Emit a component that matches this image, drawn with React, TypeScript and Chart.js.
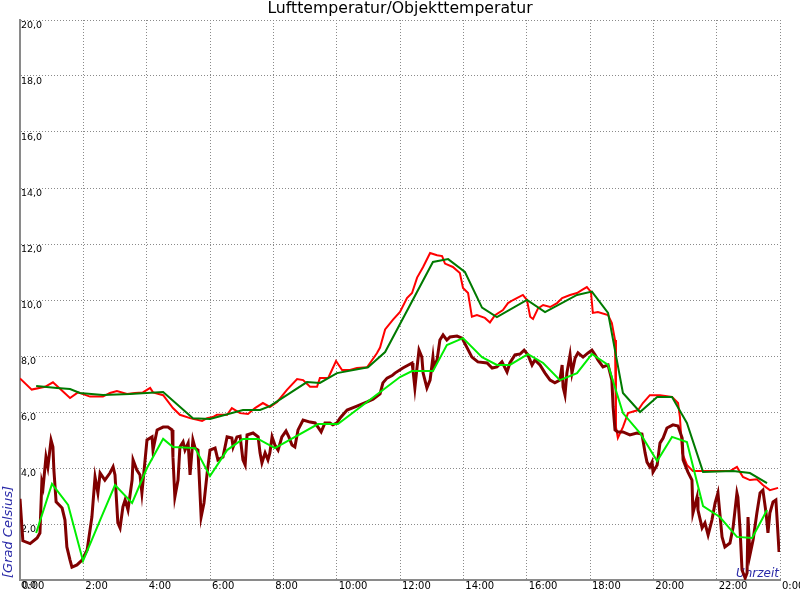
import React, { useEffect, useRef } from 'react';
import { Chart, registerables } from 'chart.js';

Chart.register(...registerables);

const TITLE = 'Lufttemperatur/Objekttemperatur';
const Y_TITLE = '[Grad Celsius]';
const X_TITLE = 'Uhrzeit';

// Lufttemperatur (raw, red)
const airHours = [0, 0.37, 0.79, 1.04, 1.58, 1.83, 2.21, 2.62, 2.84, 3.06, 3.38, 3.63, 3.88, 4.11, 4.2, 4.52, 4.83, 5.05, 5.37, 5.75, 5.91, 6.09, 6.22, 6.54, 6.69, 6.95, 7.2, 7.42, 7.67, 7.89, 8.12, 8.43, 8.75, 8.94, 9.16, 9.38, 9.47, 9.73, 9.85, 9.98, 10.17, 10.42, 10.64, 10.96, 11.27, 11.37, 11.53, 11.78, 12.0, 12.22, 12.38, 12.54, 12.73, 12.95, 13.17, 13.33, 13.42, 13.67, 13.89, 13.99, 14.15, 14.27, 14.43, 14.68, 14.84, 15.0, 15.25, 15.41, 15.57, 15.88, 16.01, 16.11, 16.2, 16.36, 16.52, 16.74, 16.96, 17.12, 17.37, 17.59, 17.75, 17.9, 18.03, 18.09, 18.25, 18.57, 18.69, 18.79, 18.82, 18.88, 19.04, 19.2, 19.52, 19.67, 19.89, 20.21, 20.59, 20.78, 20.84, 20.91, 21.06, 21.25, 21.57, 22.01, 22.42, 22.64, 22.83, 23.05, 23.27, 23.46, 23.68, 23.94];
const airValues = [7.2, 6.8, 6.9, 7.06, 6.5, 6.7, 6.55, 6.55, 6.68, 6.75, 6.64, 6.68, 6.7, 6.86, 6.7, 6.6, 6.14, 5.9, 5.78, 5.68, 5.78, 5.82, 5.9, 5.9, 6.14, 5.96, 5.93, 6.14, 6.32, 6.18, 6.36, 6.79, 7.18, 7.14, 6.9, 6.9, 7.21, 7.21, 7.5, 7.82, 7.5, 7.5, 7.57, 7.6, 8.1, 8.3, 8.95, 9.3, 9.57, 10.07, 10.25, 10.8, 11.18, 11.68, 11.6, 11.57, 11.3, 11.18, 10.96, 10.43, 10.25, 9.4, 9.46, 9.36, 9.2, 9.46, 9.64, 9.89, 10.0, 10.18, 10.0, 9.4, 9.32, 9.7, 9.82, 9.75, 9.89, 10.07, 10.18, 10.25, 10.36, 10.46, 10.29, 9.54, 9.57, 9.46, 9.18, 8.57, 5.46, 5.07, 5.46, 5.96, 6.07, 6.32, 6.6, 6.6, 6.54, 6.32, 5.82, 4.54, 4.11, 3.89, 3.89, 3.89, 3.89, 4.04, 3.68, 3.57, 3.6, 3.39, 3.21, 3.29];

// Lufttemperatur (smoothed, dark green)
const airAvgHours = [0.51, 1.17, 1.58, 1.89, 2.62, 3.47, 4.52, 5.46, 6.0, 7.04, 7.58, 7.89, 9.06, 9.47, 10.01, 10.99, 11.53, 13.04, 13.52, 14.05, 14.59, 15.06, 16.01, 16.58, 17.59, 18.06, 18.57, 19.04, 19.58, 20.12, 20.59, 21.06, 21.57, 22.52, 23.05, 23.59];
const airAvgValues = [6.93, 6.86, 6.82, 6.68, 6.61, 6.64, 6.71, 5.78, 5.75, 6.07, 6.07, 6.21, 7.07, 7.04, 7.39, 7.6, 8.14, 11.36, 11.46, 11.0, 9.73, 9.39, 10.0, 9.57, 10.18, 10.3, 9.54, 6.68, 6.0, 6.54, 6.54, 5.61, 3.86, 3.89, 3.82, 3.46];

// Objekttemperatur (raw, maroon)
const objHours = [0, 0.09, 0.32, 0.54, 0.63, 0.69, 0.73, 0.82, 0.88, 0.98, 1.04, 1.07, 1.14, 1.33, 1.42, 1.48, 1.58, 1.64, 1.8, 1.96, 2.12, 2.27, 2.37, 2.46, 2.53, 2.68, 2.84, 2.94, 3.0, 3.09, 3.16, 3.25, 3.32, 3.41, 3.54, 3.57, 3.69, 3.79, 3.85, 3.95, 4.01, 4.17, 4.2, 4.33, 4.52, 4.67, 4.8, 4.83, 4.89, 4.99, 5.05, 5.15, 5.21, 5.31, 5.37, 5.46, 5.53, 5.62, 5.72, 5.81, 5.91, 6.0, 6.16, 6.25, 6.41, 6.54, 6.69, 6.73, 6.85, 6.95, 7.04, 7.11, 7.17, 7.36, 7.52, 7.58, 7.64, 7.74, 7.83, 7.89, 7.96, 8.05, 8.15, 8.27, 8.4, 8.49, 8.59, 8.68, 8.78, 8.94, 9.16, 9.32, 9.41, 9.51, 9.63, 9.79, 9.88, 10.01, 10.11, 10.33, 10.64, 10.96, 11.15, 11.37, 11.46, 11.59, 11.75, 11.84, 12.09, 12.38, 12.41, 12.47, 12.54, 12.6, 12.69, 12.73, 12.85, 12.95, 13.04, 13.07, 13.17, 13.26, 13.36, 13.48, 13.58, 13.8, 13.96, 14.12, 14.27, 14.46, 14.75, 14.91, 15.06, 15.22, 15.38, 15.47, 15.63, 15.79, 15.92, 16.04, 16.17, 16.26, 16.42, 16.58, 16.74, 16.89, 17.05, 17.12, 17.15, 17.21, 17.27, 17.37, 17.43, 17.53, 17.62, 17.78, 17.94, 18.06, 18.16, 18.25, 18.41, 18.57, 18.69, 18.73, 18.79, 18.88, 19.04, 19.26, 19.48, 19.64, 19.74, 19.8, 19.89, 19.96, 19.99, 20.12, 20.21, 20.31, 20.43, 20.62, 20.78, 20.91, 20.94, 21.09, 21.22, 21.25, 21.38, 21.41, 21.54, 21.63, 21.73, 21.85, 21.95, 22.04, 22.17, 22.26, 22.42, 22.52, 22.64, 22.67, 22.74, 22.8, 22.9, 22.96, 22.99, 23.05, 23.15, 23.27, 23.37, 23.46, 23.56, 23.62, 23.68, 23.78, 23.87, 23.91, 23.97];
const objValues = [2.9, 1.4, 1.3, 1.5, 1.68, 3.5, 3.32, 4.39, 4.04, 5.0, 4.75, 3.93, 2.79, 2.57, 2.14, 1.18, 0.71, 0.46, 0.54, 0.71, 1.07, 2.25, 3.68, 3.11, 3.82, 3.57, 3.82, 4.04, 3.75, 2.04, 1.86, 2.61, 2.86, 2.5, 3.57, 4.29, 3.93, 3.75, 3.11, 4.29, 5.0, 5.11, 4.64, 5.36, 5.46, 5.46, 5.36, 4.39, 2.96, 3.57, 4.75, 4.93, 4.64, 4.89, 3.75, 5.0, 4.71, 4.64, 2.25, 2.75, 3.82, 4.64, 4.71, 4.29, 4.39, 5.11, 5.07, 4.75, 5.11, 5.14, 4.29, 4.11, 5.18, 5.25, 5.11, 4.54, 4.18, 4.54, 4.29, 4.54, 5.11, 4.82, 4.64, 5.11, 5.32, 5.11, 4.82, 4.75, 5.36, 5.71, 5.64, 5.61, 5.46, 5.29, 5.61, 5.61, 5.54, 5.61, 5.79, 6.07, 6.21, 6.36, 6.46, 6.65, 7.04, 7.21, 7.3, 7.39, 7.57, 7.75, 7.5, 6.86, 7.61, 8.21, 7.96, 7.39, 6.86, 7.14, 7.96, 7.61, 7.86, 8.57, 8.75, 8.57, 8.68, 8.71, 8.64, 8.29, 7.96, 7.79, 7.75, 7.57, 7.61, 7.79, 7.43, 7.75, 8.04, 8.07, 8.21, 8.04, 7.68, 7.86, 7.68, 7.39, 7.14, 7.04, 7.14, 7.68, 6.89, 6.61, 7.39, 8.04, 7.39, 7.93, 8.11, 7.96, 8.11, 8.21, 8.04, 7.86, 7.61, 7.68, 7.14, 6.18, 5.36, 5.29, 5.29, 5.18, 5.25, 5.21, 4.54, 4.21, 4.04, 4.21, 3.86, 4.11, 4.89, 5.07, 5.43, 5.54, 5.5, 5.07, 4.29, 3.86, 3.57, 2.39, 2.96, 2.5, 1.86, 2.04, 1.61, 2.14, 2.75, 3.11, 1.54, 1.18, 1.32, 1.89, 3.11, 2.96, 1.79, 0.36, 0.07, 0.25, 2.25, 0.89, 1.43, 2.39, 3.11, 3.21, 2.39, 1.68, 2.39, 2.79, 2.86, 2.14, 1.0];

// Objekttemperatur (smoothed, bright green)
const objAvgHours = [0.51, 1.01, 1.52, 1.99, 2.53, 3.0, 3.54, 4.01, 4.52, 4.83, 5.53, 6.0, 6.54, 7.04, 7.52, 8.05, 9.41, 10.04, 12.0, 12.38, 13.04, 13.48, 13.99, 14.59, 15.06, 15.47, 16.04, 16.52, 17.05, 17.59, 18.06, 18.57, 19.04, 19.58, 20.12, 20.59, 21.06, 21.57, 22.1, 22.64, 23.12, 23.59];
const objAvgValues = [1.68, 3.43, 2.68, 0.68, 2.14, 3.39, 2.75, 4.0, 5.04, 4.75, 4.71, 3.71, 4.64, 5.04, 5.04, 4.71, 5.57, 5.57, 7.25, 7.46, 7.46, 8.39, 8.64, 7.96, 7.68, 7.68, 8.07, 7.75, 7.14, 7.39, 8.07, 7.68, 5.96, 5.25, 4.25, 5.11, 4.93, 2.64, 2.25, 1.54, 1.5, 2.5];

// Axis ticks
const X_MIN = 0;
const X_MAX = 24;
const X_STEP = 2;
const Y_MIN = 0;
const Y_MAX = 20;
const Y_STEP = 2;

const toPoints = (hs: number[], vs: number[]) => hs.map((h, i) => ({ x: h, y: vs[i] }));

const axisTitles = {
  id: 'axisTitles',
  beforeDatasetsDraw(chart: any) {
    const { ctx, chartArea } = chart;
    ctx.save();
    ctx.fillStyle = '#2a2aa8';
    ctx.font = 'italic 12px "DejaVu Sans"';
    ctx.textAlign = 'right';
    ctx.textBaseline = 'alphabetic';
    ctx.fillText(X_TITLE, chartArea.right - 1, chartArea.bottom - 3);
    ctx.font = 'italic 13px "DejaVu Sans"';
    ctx.translate(8.5, chartArea.bottom - 2);
    ctx.rotate(-Math.PI / 2);
    ctx.textAlign = 'left';
    ctx.textBaseline = 'middle';
    ctx.fillText(Y_TITLE, 0, 0);
    ctx.restore();
  },
};

export default function App() {
  const ref = useRef<HTMLCanvasElement | null>(null);
  useEffect(() => {
    if (!ref.current) return;
    const chart = new Chart(ref.current, {
      type: 'line',
      data: {
        datasets: [
          { label: 'Objekttemperatur Mittel', data: toPoints(objAvgHours, objAvgValues), borderColor: '#00ee00', borderWidth: 2 },
          { label: 'Lufttemperatur Mittel', data: toPoints(airAvgHours, airAvgValues), borderColor: '#007a00', borderWidth: 2 },
          { label: 'Objekttemperatur', data: toPoints(objHours, objValues), borderColor: '#800000', borderWidth: 3 },
          { label: 'Lufttemperatur', data: toPoints(airHours, airValues), borderColor: '#ff0000', borderWidth: 2 },
        ],
      },
      options: {
        animation: false,
        responsive: false,
        elements: { point: { radius: 0 }, line: { tension: 0, borderJoinStyle: 'miter' as any } },
        layout: { padding: { left: 20, right: 20, top: 0, bottom: 0 } },
        plugins: {
          legend: { display: false },
          tooltip: { enabled: false },
          title: {
            display: true,
            text: TITLE,
            color: '#000',
            font: { family: 'DejaVu Sans', size: 15.7, weight: 'normal', lineHeight: '18px' } as any,
            padding: { top: 0, bottom: 2 },
          },
        },
        scales: {
          x: {
            type: 'linear',
            min: X_MIN,
            max: X_MAX,
            ticks: {
              stepSize: X_STEP,
              autoSkip: false,
              maxRotation: 0,
              align: 'start',
              labelOffset: 2,
              padding: 0,
              color: '#000',
              font: { family: 'DejaVu Sans', size: 10 },
              callback: (v: any) => `${Number(v) % 24}:00`,
            },
            grid: { color: '#8a8a8a', lineWidth: 1, drawTicks: false },
            border: { color: '#8a8a8a', width: 2, dash: [1, 2] },
            afterFit: (s: any) => { s.height = 20; s.paddingLeft = 0; s.paddingRight = 0; s.paddingTop = 0; s.paddingBottom = 0; },
          },
          y: {
            type: 'linear',
            min: Y_MIN,
            max: Y_MAX,
            ticks: {
              stepSize: Y_STEP,
              autoSkip: false,
              mirror: true,
              padding: 1,
              labelOffset: 5.5,
              color: '#000',
              font: { family: 'DejaVu Sans', size: 9.5 },
              callback: (v: any) => Number(v).toFixed(1).replace('.', ','),
            },
            grid: { color: '#8a8a8a', lineWidth: 1, drawTicks: false },
            border: { color: '#8a8a8a', width: 2, dash: [1, 2] },
            afterFit: (s: any) => { s.width = 0; s.paddingLeft = 0; s.paddingRight = 0; s.paddingTop = 0; s.paddingBottom = 0; },
          },
        },
      },
      plugins: [axisTitles],
    });
    return () => chart.destroy();
  }, []);
  return (
    <div style={{ position: 'fixed', left: 0, top: 0, width: 800, height: 600, background: '#fff' }}>
      <canvas ref={ref} width={800} height={600} />
    </div>
  );
}
